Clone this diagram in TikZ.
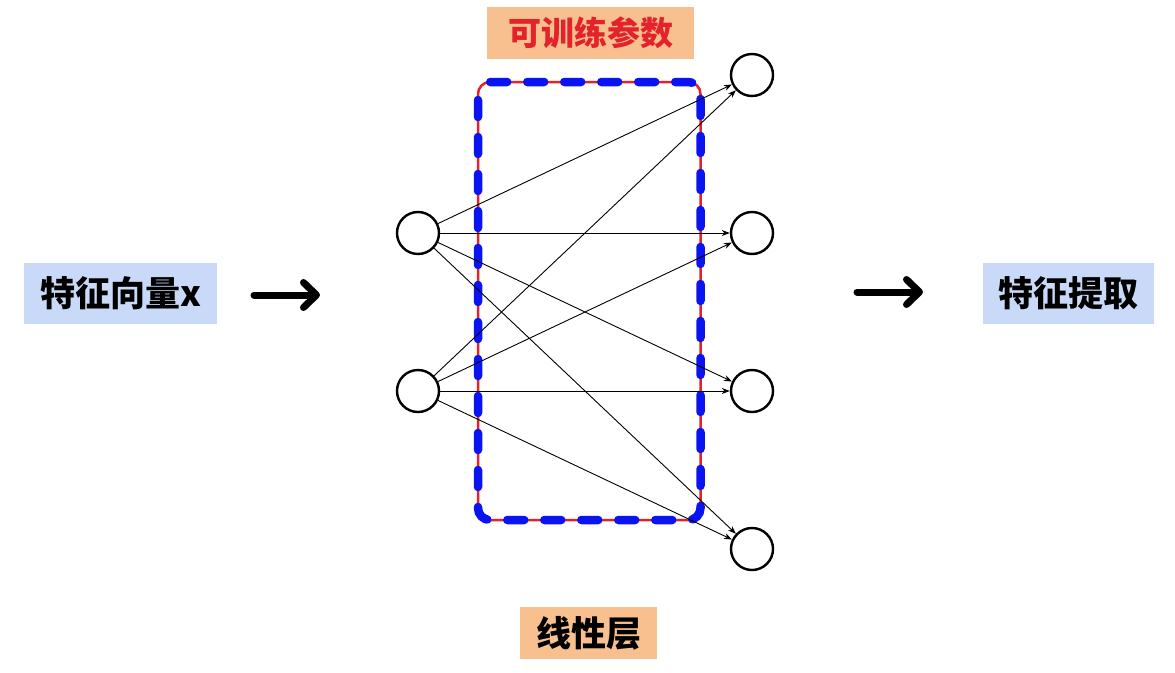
\documentclass[tikz,border=0pt]{standalone}
\usepackage{fontspec}
\newfontfamily\cjk{Noto Sans CJK SC}
\usetikzlibrary{arrows.meta}
\definecolor{peach}{HTML}{F9C08F}
\definecolor{lblue}{HTML}{C9DAF8}
\definecolor{lred}{HTML}{E3222B}
\definecolor{dblue}{HTML}{0A14F0}
\begin{document}
\begin{tikzpicture}[x=1pt,y=-1pt,
  neuron/.style={circle,draw=black,line width=2.4pt,minimum size=42pt,inner sep=0pt},
  lbl/.style={inner sep=0pt,font=\cjk\bfseries\fontsize{35}{40}\selectfont},
  wt/.style={draw=black,line width=0.9pt,-{Stealth[length=8pt,width=6pt]}},
  bigarrow/.style={draw=black,line width=7pt,line cap=round,-{Straight Barb[length=13pt,width=25pt,line cap=round,line join=round]}}]
\useasboundingbox (0,0) rectangle (1175,672);
% labels
\node[lbl,fill=lblue,minimum width=193pt,minimum height=61pt] (inl) at (120.5,293.5) {特征向量x};
\node[lbl,fill=lblue,minimum width=171pt,minimum height=61pt] (outl) at (1068.5,293.5) {特征提取};
\node[lbl,font=\cjk\bfseries\fontsize{33}{38}\selectfont,fill=peach,text=lred,minimum width=207pt,minimum height=52pt] (par) at (590.5,33) {可训练参数};
\node[lbl,fill=peach,minimum width=137pt,minimum height=52pt] (lin) at (588.5,633) {线性层};
% box
\coordinate (bx1) at (478,82);
\coordinate (bx2) at (700.5,520);
\draw[lred,line width=2.5pt,rounded corners=12pt] (bx1) rectangle (bx2);
\draw[dblue,line width=8.5pt,line cap=round,dash pattern=on 17pt off 20pt,dash phase=-6pt,rounded corners=12pt] (bx1) rectangle (bx2);
% neurons
\node[neuron] (i1) at (418,233) {};
\node[neuron] (i2) at (418,391) {};
\node[neuron] (o1) at (752,75) {};
\node[neuron] (o2) at (752,233) {};
\node[neuron] (o3) at (752,391) {};
\node[neuron] (o4) at (752,549) {};
\foreach \i in {i1,i2}{
  \foreach \o in {o1,o2,o3,o4}{
    \draw[wt] (\i) -- (\o);
  }
}
% big arrows
\coordinate (a1s) at (254,295);
\coordinate (a1e) at (320,295);
\coordinate (a2s) at (857,292);
\coordinate (a2e) at (923,292);
\draw[bigarrow] (a1s) -- (a1e);
\draw[bigarrow] (a2s) -- (a2e);
\end{tikzpicture}
\end{document}
